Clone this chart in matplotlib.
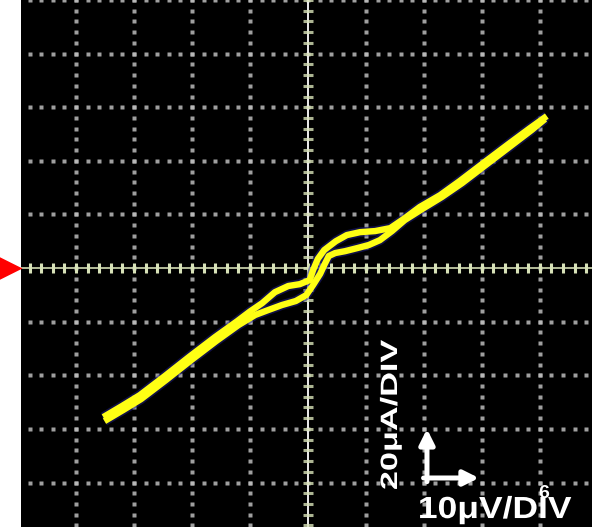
#!/usr/bin/env python3
"""Recreate an oscilloscope X-Y trace (current vs. voltage) screenshot."""

import matplotlib
matplotlib.use('Agg')
import matplotlib.pyplot as plt
from matplotlib import patheffects
from matplotlib.transforms import Affine2D
import numpy as np

# scope scales
VOLT_PER_DIV = 10   # [uV]
AMP_PER_DIV = 20    # [uA]

# trace, strand going up
volt_a = [-35.3, -32.1, -29.0, -24.7, -20.3, -16.0, -12.2, -10.0, -7.9, -5.7,
          -3.4, -1.4, 0.3, 0.9, 1.7, 2.8, 4.8, 6.7, 9.0, 11.6,
          14.2, 16.7, 19.3, 22.8, 26.2, 30.5, 34.8, 38.3, 41.2]
amp_a = [-55.6, -51.5, -47.4, -40.3, -32.8, -25.7, -19.8, -16.2, -13.1, -9.0,
         -6.7, -6.0, -4.5, -0.7, 3.4, 6.7, 10.0, 12.3, 13.4, 13.8,
         14.9, 18.6, 22.8, 27.2, 32.5, 39.6, 46.6, 52.2, 56.7]

# trace, return strand
volt_b = [-35.1, -31.9, -28.8, -24.5, -20.1, -15.8, -12.0, -9.1, -6.9, -4.5,
          -2.1, -0.3, 0.9, 2.1, 2.9, 3.6, 4.7, 6.4, 8.6, 10.5,
          12.4, 14.5, 16.7, 19.7, 23.1, 26.6, 30.9, 35.2, 38.6, 40.9]
amp_b = [-57.1, -53.0, -48.9, -41.8, -34.3, -27.2, -21.3, -17.5, -15.7, -13.8,
         -12.3, -10.1, -6.3, -2.2, 1.5, 4.5, 5.6, 6.3, 7.5, 8.6,
         10.4, 13.8, 17.9, 22.0, 26.5, 31.7, 38.8, 45.9, 51.5, 55.6]

Y_LABEL = "20μA/DIV"
X_LABEL = "10μV/DIV"
GLITCH = "6"

GRID_COLOR = '#bcbcbc'
AXIS_COLOR = '#d8e2b8'
TRACE_COLOR = '#ffff14'
FRINGE_COLOR = '#20208a'
LABEL_FONT = 'Liberation Sans'


class Stretch(patheffects.AbstractPathEffect):
    """Stretch text glyphs along the writing direction (scope font is wide)."""

    def __init__(self, sx):
        super().__init__()
        self.sx = sx

    def draw_path(self, renderer, gc, tpath, affine, rgbFace=None):
        renderer.draw_path(gc, tpath, Affine2D().scale(self.sx, 1.0) + affine, rgbFace)


def draw_graticule(ax):
    """Dotted graticule plus the ticked centre axes."""
    xs = np.arange(-40, 41, VOLT_PER_DIV)
    ys = np.arange(-80, 101, AMP_PER_DIV)
    x_dots = np.arange(-50, 51, VOLT_PER_DIV / 5)
    y_dots = np.arange(-100, 101, AMP_PER_DIV / 5)
    for x in xs:
        if x == 0:
            continue
        ax.plot(np.full_like(y_dots, x), y_dots, ls='none', marker='s', ms=2.2,
                mec='none', mfc=GRID_COLOR, alpha=0.85)
    for y in ys:
        if y == 0:
            continue
        ax.plot(x_dots, np.full_like(x_dots, y), ls='none', marker='s', ms=2.2,
                mec='none', mfc=GRID_COLOR, alpha=0.85)
    # centre axes with minor ticks
    ax.axhline(0, color=AXIS_COLOR, lw=1.3, alpha=0.9)
    ax.axvline(0, color='white', lw=1.3)
    ax.plot(x_dots, np.zeros_like(x_dots), ls='none', marker='|', ms=6.5,
            mew=2.2, color=AXIS_COLOR)
    ax.plot(np.zeros_like(y_dots), y_dots, ls='none', marker='_', ms=7.5,
            mew=2.2, color=AXIS_COLOR, alpha=0.8)


def plot_graph(output_file):
    """Create the scope picture."""
    fig = plt.figure(figsize=(6.03, 5.27), dpi=100, facecolor='white')
    ax = fig.add_axes([21 / 603, 0.0, 571 / 603, 1.0])
    ax.set_facecolor('black')
    ax.set_xlim(-49.5, 49.0)
    ax.set_ylim(-96.6, 100.0)
    ax.set_xticks([])
    ax.set_yticks([])
    for s in ax.spines.values():
        s.set_visible(False)

    draw_graticule(ax)

    # the X-Y trace: a blue-ish fringe below a thick yellow beam
    for vx, vy in ((volt_a, amp_a), (volt_b, amp_b)):
        ax.plot(vx, vy, color=FRINGE_COLOR, lw=7.0, alpha=0.5,
                solid_capstyle='butt', solid_joinstyle='round')
    for vx, vy in ((volt_a, amp_a), (volt_b, amp_b)):
        ax.plot(vx, vy, color=TRACE_COLOR, lw=4.6,
                solid_capstyle='butt', solid_joinstyle='round')

    # red marker for the ground reference on the left
    ax.plot([-0.0228], [0], transform=ax.get_yaxis_transform(), marker='>',
            ms=20, color='#ff0000', mec='none', clip_on=False)

    # scale annotation
    ax.annotate('', xy=(0.711, 0.186), xytext=(0.711, 0.086),
                xycoords='axes fraction',
                arrowprops=dict(arrowstyle='-|>,head_length=0.9,head_width=0.45',
                                color='white', lw=3.6, shrinkA=0, shrinkB=0))
    ax.annotate('', xy=(0.802, 0.093), xytext=(0.705, 0.093),
                xycoords='axes fraction',
                arrowprops=dict(arrowstyle='-|>,head_length=0.9,head_width=0.45',
                                color='white', lw=3.6, shrinkA=0, shrinkB=0))
    ax.text(0.6585, 0.070, Y_LABEL, transform=ax.transAxes, rotation=90,
            rotation_mode='anchor', ha='left', va='baseline', color='white',
            fontsize=17, fontweight='bold', family=LABEL_FONT,
            path_effects=[Stretch(1.45)])
    ax.text(0.695, 0.017, X_LABEL, transform=ax.transAxes,
            ha='left', va='baseline', color='white',
            fontsize=22, fontweight='bold', family=LABEL_FONT,
            path_effects=[Stretch(1.16)])
    ax.text(0.916, 0.063, GLITCH, transform=ax.transAxes, ha='center',
            va='center', color='white', fontsize=14, fontweight='bold',
            family=LABEL_FONT)

    plt.savefig(fname=output_file, format='png', dpi=100, facecolor='white')


def main():
    plot_graph('out.png')


if __name__ == "__main__":
    main()
